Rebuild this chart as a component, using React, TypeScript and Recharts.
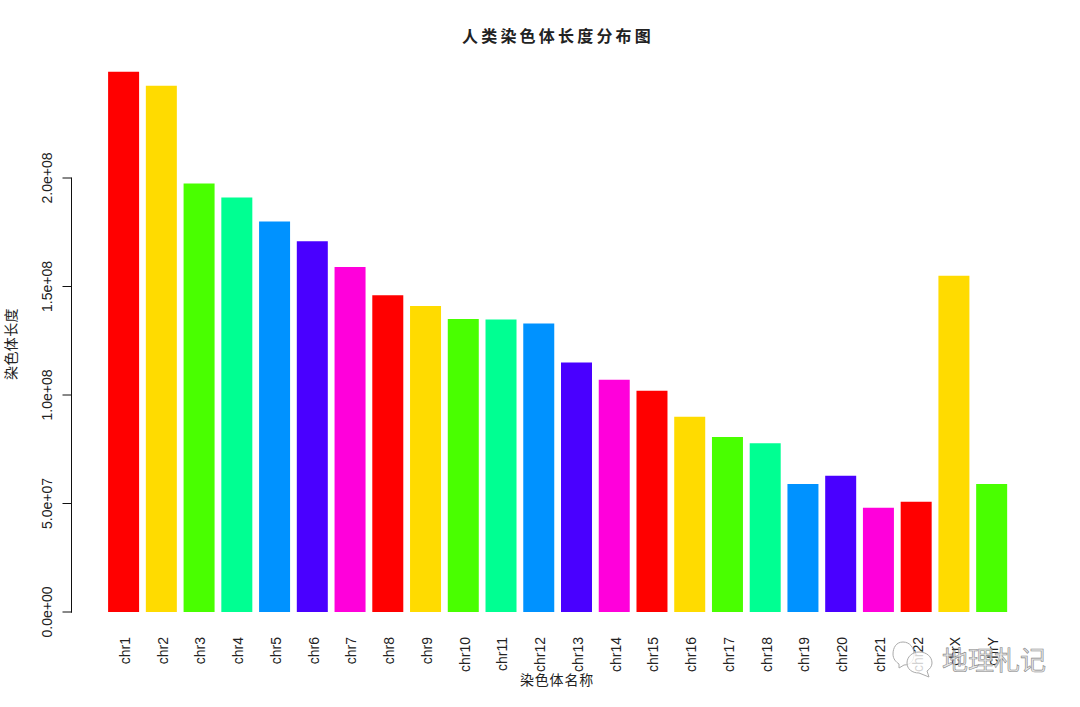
import React from "react";
import { BarChart, Bar, XAxis, YAxis, Cell } from "recharts";

const CHROMOSOMES = ["chr1","chr2","chr3","chr4","chr5","chr6","chr7","chr8","chr9","chr10","chr11","chr12","chr13","chr14","chr15","chr16","chr17","chr18","chr19","chr20","chr21","chr22","chrX","chrY"];
const LENGTHS = [249e6,242.5e6,197.5e6,191e6,180e6,170.8e6,159e6,146e6,141e6,135e6,134.8e6,133e6,115e6,107e6,102e6,90e6,80.7e6,77.8e6,59e6,62.8e6,48e6,50.8e6,155e6,59e6];
const PALETTE = ["#FF0000","#FFDB00","#49FF00","#00FF92","#0092FF","#4900FF","#FF00DB"];
const Y_TICKS = [0, 5e7, 1e8, 1.5e8, 2e8];
const Y_TICK_LABELS = ["0.0e+00","5.0e+07","1.0e+08","1.5e+08","2.0e+08"];
const TITLE = "人类染色体长度分布图";
const X_TITLE = "染色体名称";
const Y_TITLE = "染色体长度";
const WATERMARK = "地理札记";

const rows = CHROMOSOMES.map((name, i) => ({ name, length: LENGTHS[i] }));

const LATIN = '"Liberation Sans", Arial, sans-serif';
const CJK = '"Noto Sans CJK SC", sans-serif';
const INK = "#222";
const BASELINE = 612;
const AXIS_X = 71.5;

const YTick = (p: any) => {
  const { y, payload } = p;
  const v = payload.value;
  const i = Y_TICKS.indexOf(v);
  const lowerY = v > 0 ? y + (BASELINE - y) / i : y;
  return (
    <g>
      <line x1={AXIS_X - 9} x2={AXIS_X} y1={y} y2={y} stroke="#111" strokeWidth={1} />
      <line x1={AXIS_X} x2={AXIS_X} y1={y - 0.5} y2={lowerY + 0.5} stroke="#111" strokeWidth={1} />
      <text x={0} y={0} transform={`translate(51.5 ${y}) rotate(-90)`} textAnchor="middle" fontFamily={LATIN} fontSize={14} fill={INK}>
        {Y_TICK_LABELS[i]}
      </text>
    </g>
  );
};

const XTick = (p: any) => {
  const { x, payload } = p;
  return (
    <text x={0} y={0} transform={`translate(${x + 6} 637) rotate(-90)`} textAnchor="end" fontFamily={LATIN} fontSize={14} fill={INK}>
      {payload.value}
    </text>
  );
};

export default function App() {
  return (
    <div style={{ position: "absolute", left: 0, top: 0, width: 1080, height: 707, background: "#fff" }}>
      <BarChart width={1080} height={707} data={rows} margin={{ top: 69.5, right: 69.1, bottom: 0, left: 0 }} barSize={31}>
        <XAxis dataKey="name" interval={0} height={95} axisLine={false} tickLine={false} tick={<XTick />} padding={{ left: 33.1, right: 0 }} />
        <YAxis width={72} domain={[0, 2.5e8]} ticks={Y_TICKS} axisLine={false} tickLine={false} tick={<YTick />} />
        <Bar dataKey="length" isAnimationActive={false}>
          {rows.map((r, i) => (
            <Cell key={r.name} fill={PALETTE[i % PALETTE.length]} />
          ))}
        </Bar>
      </BarChart>
      <svg width={1080} height={707} style={{ position: "absolute", left: 0, top: 0, pointerEvents: "none" }}>
        <text x={558} y={42} textAnchor="middle" fontFamily={CJK} fontWeight={700} fontSize={16} letterSpacing={3.2} fill="#222">{TITLE}</text>
        <text x={557} y={685} textAnchor="middle" fontFamily={CJK} fontSize={14} letterSpacing={0.8} fill="#222">{X_TITLE}</text>
        <text transform="translate(16 344) rotate(-90)" textAnchor="middle" fontFamily={CJK} fontSize={14} letterSpacing={0.4} fill="#222">{Y_TITLE}</text>
        <g fill="rgba(255,255,255,0.8)" stroke="#aaa" strokeWidth={1}>
          <path d="M903 642 C 896 642 893 648 893 654 C 893 659 896 662 899 664 L 899 668 L 904 665 C 911 665 914 660 914 654 C 914 648 910 642 903 642 Z" />
          <path d="M919 652 C 912 652 907 657 907 663 C 907 669 912 673 919 673 L 929 677 L 927 671 C 930 669 932 666 932 663 C 932 657 927 652 919 652 Z" />
        </g>
        <text x={942} y={670} fontFamily={CJK} fontSize={26} fill="rgba(225,225,225,0.8)" stroke="#888" strokeWidth={0.6}>{WATERMARK}</text>
      </svg>
    </div>
  );
}
